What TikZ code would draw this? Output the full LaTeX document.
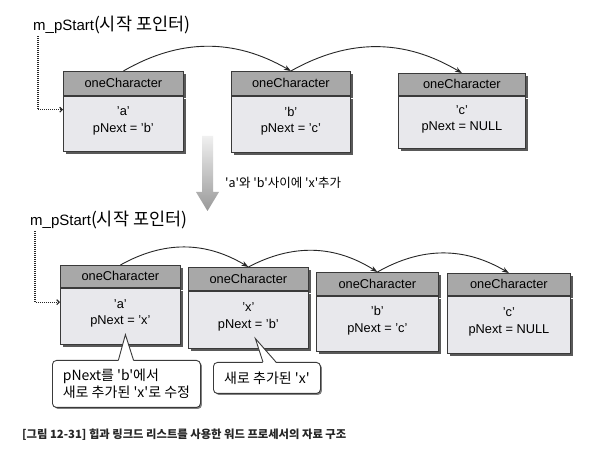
\documentclass[tikz,border=0pt]{standalone}
\usepackage{fontspec}
\setmainfont{Liberation Sans}
\newfontfamily\kr{Noto Sans CJK KR}
\usetikzlibrary{arrows.meta,shadows,calc}

\definecolor{hdrc}{HTML}{A8A8A8}
\definecolor{bodyc}{HTML}{E8E8EC}
\definecolor{edgec}{HTML}{3A3A3A}

\tikzset{
 every node/.style={inner sep=0pt},
 boxshadow/.style={drop shadow={shadow xshift=2.5pt, shadow yshift=-2.5pt, fill=black!65, opacity=1}},
 hdr/.style={draw=edgec, fill=hdrc, line width=0.8pt, anchor=north west, font=\fontsize{12.8}{14}\selectfont, boxshadow},
 bodyb/.style={draw=edgec, fill=bodyc, line width=0.8pt, anchor=north west, boxshadow},
 btxt/.style={align=center, font=\fontsize{12.8}{16.5}\selectfont},
 link/.style={-{Stealth[length=7pt,width=5pt]}, line width=0.9pt, black!85, bend left=30},
 ptr/.style={-{Straight Barb[length=2.5pt,width=5pt]}, line width=1.1pt, dash pattern=on 1pt off 1pt, black!85},
 mlab/.style={anchor=west, font=\fontsize{15}{16}\selectfont},
 callout/.style={draw=edgec, fill=white, rounded corners=4pt, line width=0.9pt, anchor=north west,
   drop shadow={shadow xshift=1.5pt, shadow yshift=-1.5pt, fill=black!50, opacity=1},
   align=left, font=\kr\fontsize{14}{17}\selectfont},
 callline/.style={draw=edgec, line width=0.9pt, line join=miter},
}

\newcommand\charbox[7]{%
 \node[hdr, minimum width=#4pt, minimum height=#5pt] (#1h) at (#2,#3) {oneCharacter};
 \node[bodyb, minimum width=#4pt, minimum height=#6pt] (#1) at (#1h.south west) {};
 \node[btxt] (#1t) at ([yshift=3pt]#1.center) {#7};
}

\begin{document}
\begin{tikzpicture}[x=1pt,y=-1pt]
\fill[white] (0,0) rectangle (606,454);
\useasboundingbox (0,0) rectangle (606,454);

% ---------- top row ----------
\node[mlab] (m1) at (33,25) {m\_pStart{\kr\fontsize{17.5}{18}\selectfont(시작 포인터)}};
\charbox{s1a}{63}{71}{120}{24}{55}{'a'\\pNext = 'b'}
\charbox{s1b}{231}{71}{119}{24}{56}{'b'\\pNext = 'c'}
\charbox{s1c}{398}{73}{127}{22}{52}{'c'\\pNext = NULL}

\draw[ptr] ([xshift=5pt,yshift=-2pt]m1.south west) |- ([yshift=14pt]s1a.west);
\draw[link] (s1ah.north) to (s1bh.north);
\draw[link] (s1bh.north) to (s1ch.north);

% ---------- transition arrow ----------
\shade[top color=gray!12, bottom color=gray!80]
  (202,136) -- (213,136) -- (213,192) -- (219,192) -- (207.5,211) -- (196,192) -- (202,192) -- cycle;
\node[anchor=west, font=\kr\fontsize{12.5}{14}\selectfont] (lbl) at (225,183) {'a'와 'b'사이에 'x'추가};

% ---------- bottom row ----------
\node[mlab] (m2) at (30,220) {m\_pStart{\kr\fontsize{17.5}{18}\selectfont(시작 포인터)}};
\charbox{s2a}{60}{265}{120}{22}{56}{'a'\\pNext = 'x'}
\charbox{s2x}{188}{267}{120}{23}{57}{'x'\\pNext = 'b'}
\charbox{s2b}{316}{272}{122}{23}{55}{'b'\\pNext = 'c'}
\charbox{s2c}{447}{273}{123}{22}{57}{'c'\\pNext = NULL}

\draw[ptr] ([xshift=5pt,yshift=-2pt]m2.south west) |- ([yshift=14pt]s2a.west);
\draw[link] (s2ah.north) to (s2xh.north);
\draw[link] (s2xh.north) to (s2bh.north);
\draw[link] (s2bh.north) to (s2ch.north);

% ---------- callouts ----------
\node[callout, minimum width=148pt, minimum height=47pt] (c1) at (52,360) {pNext를 'b'에서\\새로 추가된 'x'로 수정};
\coordinate (c1p1) at ([xshift=-8pt]c1.north);
\coordinate (c1p2) at ([xshift=7pt]c1.north);
\coordinate (c1tip) at ([xshift=5pt,yshift=10pt]s2a.south);
\fill[white] ([yshift=-1pt]c1p1) -- (c1tip) -- ([yshift=-1pt]c1p2) -- cycle;
\draw[callline] (c1p1) -- (c1tip) -- (c1p2);

\node[callout, minimum width=107pt, minimum height=31pt] (c2) at (213,362) {새로 추가된 'x'};
\coordinate (c2p1) at ([xshift=-4pt]c2.north);
\coordinate (c2p2) at ([xshift=9pt]c2.north);
\coordinate (c2tip) at ([xshift=7pt,yshift=10pt]s2x.south);
\fill[white] ([yshift=-1pt]c2p1) -- (c2tip) -- ([yshift=-1pt]c2p2) -- cycle;
\draw[callline] (c2p1) -- (c2tip) -- (c2p2);

% ---------- caption ----------
\node[anchor=west, text=black!85, font=\kr\bfseries\fontsize{11.3}{12}\selectfont] (cap) at (22,435)
  {[그림 12-31] 힙과 링크드 리스트를 사용한 워드 프로세서의 자료 구조};
\end{tikzpicture}
\end{document}
